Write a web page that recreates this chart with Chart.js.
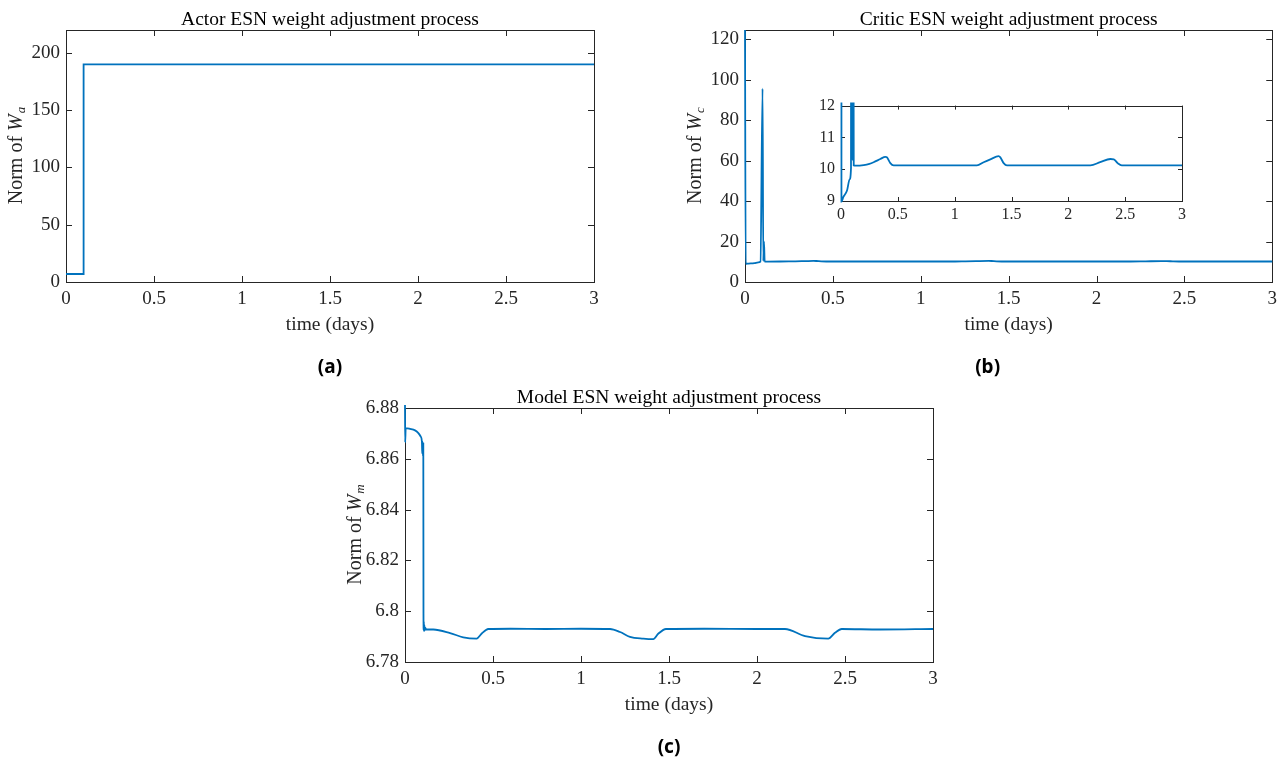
<!DOCTYPE html>
<html>
<head>
<meta charset="utf-8">
<script src="https://cdn.jsdelivr.net/npm/chart.js"></script>
<style>
body{margin:0;background:#fff;width:1283px;height:763px;position:relative;overflow:hidden}
canvas{position:absolute}
</style>
</head>
<body>
<canvas id="actorChart" style="left:0;top:0;width:620px;height:385px" width="620" height="385"></canvas>
<canvas id="criticChart" style="left:680px;top:0;width:603px;height:385px" width="603" height="385"></canvas>
<canvas id="modelChart" style="left:340px;top:378px;width:620px;height:385px" width="620" height="385"></canvas>
<canvas id="insetChart" style="left:800px;top:90px;width:400px;height:140px" width="400" height="140"></canvas>
<script>

const timeTicks = [0, 0.5, 1, 1.5, 2, 2.5, 3]

const actorTime = [0, 0.1, 0.1, 3]
const actorNorm = [7, 7, 190, 190]
const actorTicks = [0, 50, 100, 150, 200]

const criticTime = [0, 0.004, 0.02, 0.053, 0.076, 0.088, 0.1, 0.104, 0.108, 0.112,
  0.13, 0.2, 0.25, 0.287, 0.346, 0.39, 0.405, 0.434, 0.463, 0.6,
  0.8, 1.0, 1.196, 1.255, 1.314, 1.387, 1.402, 1.431, 1.46, 1.7,
  2.0, 2.194, 2.28, 2.37, 2.4, 2.434, 2.47, 2.7, 3]
const criticNorm = [124.5, 8.98, 9.12, 9.33, 9.68, 10.04, 95.5, 10.3, 20, 10.12,
  10.11, 10.13, 10.17, 10.22, 10.32, 10.39, 10.37, 10.19, 10.12, 10.12,
  10.12, 10.12, 10.12, 10.22, 10.31, 10.41, 10.37, 10.19, 10.12, 10.12,
  10.12, 10.12, 10.22, 10.32, 10.31, 10.19, 10.12, 10.12, 10.12]
const criticTicks = [0, 20, 40, 60, 80, 100, 120]
const insetTicks = [9, 10, 11, 12]

const modelTime = [0, 0.001, 0.004, 0.028, 0.057, 0.076, 0.089, 0.096, 0.098, 0.1,
  0.102, 0.104, 0.105, 0.106, 0.107, 0.108, 0.11, 0.112, 0.115, 0.12,
  0.161, 0.256, 0.331, 0.407, 0.436, 0.473, 0.6, 0.8, 1.0, 1.165,
  1.222, 1.278, 1.354, 1.411, 1.44, 1.483, 1.7, 2.0, 2.159, 2.273,
  2.405, 2.443, 2.481, 2.7, 3]
const modelNorm = [6.882, 6.8665, 6.8721, 6.8718, 6.8712, 6.8701, 6.8688, 6.8668, 6.862, 6.8668,
  6.861, 6.866, 6.799, 6.7925, 6.796, 6.7922, 6.7945, 6.7925, 6.7935, 6.7928,
  6.7928, 6.7914, 6.7897, 6.7892, 6.7912, 6.793, 6.7931, 6.793, 6.7931, 6.793,
  6.7918, 6.7899, 6.7892, 6.789, 6.7912, 6.793, 6.7931, 6.793, 6.793, 6.7902,
  6.7892, 6.7915, 6.793, 6.7928, 6.793]
const modelTicks = [6.78, 6.8, 6.82, 6.84, 6.86, 6.88]

const AXIS = '#262626'
const LINE = '#0072BD'
const SERIF = '"Liberation Serif", "DejaVu Serif", serif'

// matlab style box, inward ticks and the texts around each axes
const axesBox = {
  id: 'axesBox',
  beforeDatasetsDraw(chart, args, o){
    const ctx = chart.ctx
    const a = chart.chartArea
    const sx = chart.scales.x, sy = chart.scales.y
    ctx.save()
    ctx.fillStyle = '#fff'
    ctx.fillRect(a.left, a.top, a.right - a.left, a.bottom - a.top)
    ctx.strokeStyle = AXIS
    ctx.lineWidth = 1
    ctx.beginPath()
    sx.ticks.forEach(t => {
      const p = Math.round(sx.getPixelForValue(t.value)) + 0.5
      ctx.moveTo(p, a.bottom); ctx.lineTo(p, a.bottom - o.tick)
      ctx.moveTo(p, a.top); ctx.lineTo(p, a.top + o.tick)
    })
    sy.ticks.forEach(t => {
      const p = Math.round(sy.getPixelForValue(t.value)) + 0.5
      ctx.moveTo(a.left, p); ctx.lineTo(a.left + o.tick, p)
      ctx.moveTo(a.right, p); ctx.lineTo(a.right - o.tick, p)
    })
    ctx.stroke()
    ctx.strokeRect(Math.round(a.left) + 0.5, Math.round(a.top) + 0.5, Math.round(a.right - a.left), Math.round(a.bottom - a.top))
    ctx.restore()
  },
  afterDraw(chart, args, o){
    if(!o.title) return
    const ctx = chart.ctx
    const a = chart.chartArea
    const cx = (a.left + a.right) / 2
    ctx.save()
    ctx.fillStyle = '#000'
    ctx.textAlign = 'center'
    ctx.textBaseline = 'alphabetic'
    ctx.font = '19.5px ' + SERIF
    ctx.fillText(o.title, cx, a.top - 5)
    ctx.fillStyle = AXIS
    ctx.fillText('time (days)', cx, a.bottom + 48)
    ctx.fillStyle = '#000'
    ctx.font = 'bold 19px "Noto Sans", sans-serif'
    ctx.fillText(o.label, cx + o.labelDx, a.bottom + 91)

    // y title: Norm of W with subscript
    const f1 = '20px ' + SERIF, f2 = 'italic 20px ' + SERIF, f3 = 'italic 13px ' + SERIF
    ctx.translate(a.left - 51, (a.top + a.bottom) / 2)
    ctx.rotate(-Math.PI / 2)
    ctx.textAlign = 'left'
    ctx.fillStyle = AXIS
    ctx.font = f1; const w1 = ctx.measureText('Norm of ').width
    ctx.font = f2; const w2 = ctx.measureText('W').width
    ctx.font = f3; const w3 = ctx.measureText(o.sub).width
    let x = -(w1 + w2 + w3) / 2
    ctx.font = f1; ctx.fillText('Norm of ', x, 7); x += w1
    ctx.font = f2; ctx.fillText('W', x, 7); x += w2 + 1
    ctx.font = f3; ctx.fillText(o.sub, x, 10)
    ctx.restore()
  }
}

function makeChart(id, times, norms, yTicks, yMin, yMax, box, texts){
  const points = times.map((t, i) => ({x: t, y: norms[i]}))
  return new Chart(document.getElementById(id), {
    type: 'line',
    data: {
      datasets: [{
        data: points,
        borderColor: LINE,
        borderWidth: 1.8,
        pointRadius: 0,
        tension: 0,
        clip: 3,
        cubicInterpolationMode: texts.smooth ? 'monotone' : 'default'
      }]
    },
    options: {
      responsive: false,
      animation: false,
      events: [],
      layout: {padding: box.pad},
      plugins: {
        legend: {display: false},
        tooltip: {enabled: false},
        axesBox: Object.assign({tick: box.tick}, texts)
      },
      scales: {
        x: {
          type: 'linear',
          min: 0, max: 3,
          grid: {display: false, drawTicks: false},
          border: {display: false},
          afterBuildTicks: s => { s.ticks = timeTicks.map(v => ({value: v})) },
          afterFit: s => { s.height = box.xh },
          ticks: {padding: box.xpad, color: AXIS, font: {family: SERIF, size: box.font}, maxRotation: 0, callback: v => String(v)}
        },
        y: {
          type: 'linear',
          min: yMin, max: yMax,
          grid: {display: false, drawTicks: false},
          border: {display: false},
          afterBuildTicks: s => { s.ticks = yTicks.map(v => ({value: v})) },
          afterFit: s => { s.width = box.yw },
          ticks: {padding: 6, color: AXIS, font: {family: SERIF, size: box.font}, callback: v => String(v)}
        }
      }
    },
    plugins: [axesBox]
  })
}

makeChart('actorChart', actorTime, actorNorm, actorTicks, 0, 220,
  {pad: {left: 0, top: 30, right: 26, bottom: 63}, yw: 66, xh: 40, xpad: 6, tick: 6, font: 19},
  {title: 'Actor ESN weight adjustment process', sub: 'a', label: '(a)', labelDx: 0})

makeChart('criticChart', criticTime, criticNorm, criticTicks, 0, 124.5,
  {pad: {left: 0, top: 30, right: 10, bottom: 63}, yw: 65, xh: 40, xpad: 6, tick: 6, font: 19},
  {title: 'Critic ESN weight adjustment process', sub: 'c', label: '(b)', labelDx: -21, smooth: true})

makeChart('modelChart', modelTime, modelNorm, modelTicks, 6.78, 6.88,
  {pad: {left: 0, top: 30, right: 27, bottom: 61}, yw: 65, xh: 40, xpad: 6, tick: 6, font: 19},
  {title: 'Model ESN weight adjustment process', sub: 'm', label: '(c)', labelDx: 0, smooth: true})

makeChart('insetChart', criticTime, criticNorm, insetTicks, 9, 12,
  {pad: {left: 0, top: 12, right: 18, bottom: 7}, yw: 41, xh: 22, xpad: 4, tick: 4, font: 16},
  {smooth: true})

</script>
</body>
</html>
